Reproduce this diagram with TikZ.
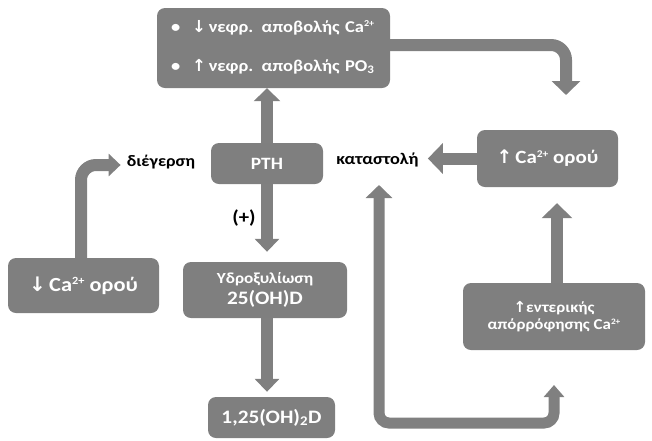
\documentclass[tikz,border=0pt]{standalone}
\usepackage{graphicx}
\usepackage{fontspec}
\setmainfont{Carlito}[FakeStretch=1.12]
\newfontfamily\arrfont{DejaVu Sans}
\usetikzlibrary{arrows.meta}
\definecolor{boxgray}{HTML}{7F7F7F}
\definecolor{arrgray}{HTML}{808080}
\newcommand{\uparr}{{\arrfont\char"2191}}
\newcommand{\dnarr}{{\arrfont\char"2193}}
\newcommand{\fs}[1]{\fontsize{#1}{#1}\selectfont}
\newcommand{\spp}[1]{\raisebox{0.32em}{\scalebox{0.55}{#1}}}
\begin{document}
\begin{tikzpicture}[x=1pt,y=-1pt,
  box/.style={fill=boxgray, rounded corners=8pt, text=white, inner sep=0pt, align=center},
  lbl/.style={text=black, inner sep=0pt},
  conn/.style={draw=arrgray, line width=12pt},
]
\useasboundingbox (0,0) rectangle (652,440);

% boxes
\node[box, minimum width=233pt, minimum height=80pt, text width=205pt, inner xsep=14pt, align=left,
      font=\bfseries\fs{16.5}] (ren) at (273.5,48)
  {\raisebox{-6pt}{\begin{tabular}{@{}l@{\hspace{12pt}}l@{}}
   \textbullet & \dnarr\,νεφρ. αποβολής Ca\spp{2+}\\[22pt]
   \textbullet & \uparr\,νεφρ. αποβολής PO\textsubscript{3}
   \end{tabular}}};
\node[box, minimum width=112pt, minimum height=41pt, font=\bfseries\fs{17.3}] (pth) at (267,163.5) {PTH};
\node[box, minimum width=151pt, minimum height=55pt, font=\bfseries\fs{20}] (dn) at (83.5,285.5) {\dnarr\,Ca\spp{2+} ορού};
\node[box, minimum width=164pt, minimum height=56pt, font=\bfseries\fs{15.4}] (hyd) at (265,290) {Υδροξυλίωση\\[4pt]{\fs{19}25(OH)D}};
\node[box, minimum width=127pt, minimum height=41pt, font=\bfseries\fs{19}] (d) at (271.5,417.5) {1,25(OH)\textsubscript{2}D};
\node[box, minimum width=141pt, minimum height=57pt, font=\bfseries\fs{18.7}] (upca) at (547.5,158.5) {\uparr\,Ca\spp{2+} ορού};
\node[box, minimum width=182pt, minimum height=67pt, font=\bfseries\fs{15.1}] (ent) at (554,316.5) {\uparr εντερικής\\[2pt]απόρρόφησης Ca\spp{2+}};

% labels
\node[lbl, font=\bfseries\fs{16}] (dieg) at (161,162) {διέγερση};
\node[lbl, font=\bfseries\fs{16.3}] (kat) at (377.5,160) {καταστολή};
\node[lbl, font=\bfseries\fs{18.5}] (plus) at (244,218) {(+)};

\coordinate (t7) at (566,95);
\coordinate (kb) at (379,185);
\coordinate (eb) at (554,385);

% connectors
\draw[conn, -{Triangle[width=26pt,length=13pt]}] (pth.north) -- (pth.north |- ren.south);
\draw[conn, shorten >=10pt, -{Triangle[width=24pt,length=13pt]}] (pth.south) -- (pth.south |- hyd.north);
\draw[conn, shorten >=5pt, -{Triangle[width=24pt,length=13pt]}] (pth.south |- hyd.south) -- (pth.south |- d.north);
\draw[conn, rounded corners=15pt, -{Triangle[width=22pt,length=12pt]}] (dn.north -| 81,0) |- ([xshift=-6pt]dieg.west |- 0,165);
\draw[conn, shorten >=9pt, -{Triangle[width=30pt,length=15pt]}] (upca.west) -- (upca.west -| kat.east);
\draw[conn, shorten >=16pt, -{Triangle[width=30pt,length=15pt]}] (ent.north -| 557,0) -- (upca.south -| 557,0);
\draw[conn, rounded corners=15pt, -{Triangle[width=28pt,length=14pt]}] (ren.east |- 0,45) -| (t7);
\draw[conn, line width=11pt, {Triangle[width=20pt,length=12pt]}-{Triangle[width=26pt,length=13pt]}]
  (eb) [rounded corners=10pt] -- (554,423) -- (379,423) [sharp corners] -- (kb);
\end{tikzpicture}
\end{document}
